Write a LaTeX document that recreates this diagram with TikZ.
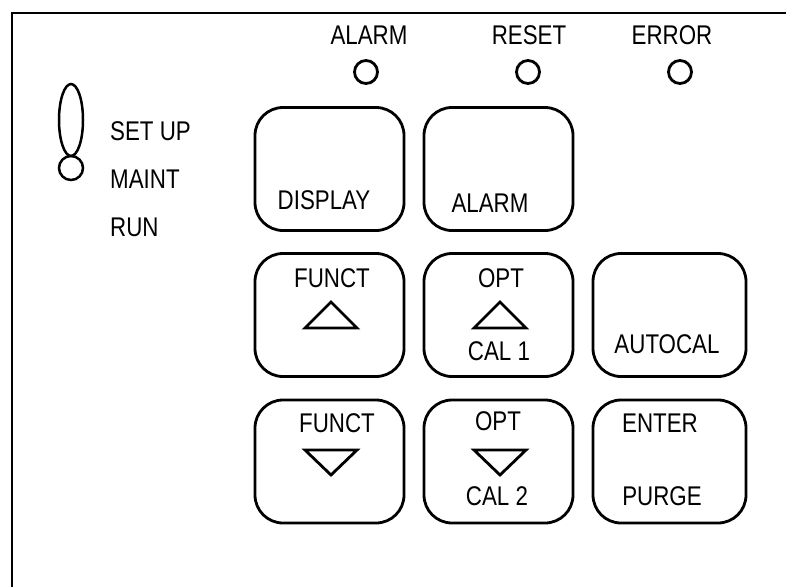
\documentclass[tikz,border=0pt]{standalone}
\usepackage{fontspec}
\setmainfont{Liberation Sans}
\usetikzlibrary{shapes.geometric}
\newcommand\keytxt[1]{\scalebox{0.95}[1.15]{#1}}
\begin{document}
\begin{tikzpicture}[x=1pt,y=-1pt,
  lbl/.style={inner sep=0pt,font=\fontsize{23.5}{27}\selectfont},
  key/.style={draw,line width=2.8pt,rounded corners=28pt,inner sep=0pt,minimum width=149pt,minimum height=123pt},
  led/.style={draw,circle,line width=2.8pt,minimum size=23pt,inner sep=0pt},
  tri/.style={line width=2.8pt,line join=miter}]
\useasboundingbox (0,0) rectangle (786,587);
% frame
\coordinate (fb) at (12,587);
\coordinate (fc) at (12,13);
\coordinate (fr) at (786,13);
\draw[line width=2.8pt] (fb) -- (fc) -- (fr);
% indicator labels and LEDs
\node[lbl] (lalarm) at (369,35) {\keytxt{ALARM}};
\node[lbl] (lreset) at (529,35) {\keytxt{RESET}};
\node[lbl] (lerror) at (672,35) {\keytxt{ERROR}};
\node[led] (ledalarm) at (366,72) {};
\node[led] (ledreset) at (528,72) {};
\node[led] (lederror) at (680,72) {};
% mode switch
\node[draw,ellipse,line width=2.5pt,minimum width=24pt,minimum height=72pt,inner sep=0pt] (sw) at (71,120) {};
\node[draw,circle,line width=2.5pt,minimum size=24pt,inner sep=0pt] (knob) at (71,168) {};
\node[lbl,anchor=west] (setup) at (110,131) {\keytxt{SET UP}};
\node[lbl,anchor=west] (maint) at (110,179) {\keytxt{MAINT}};
\node[lbl,anchor=west] (run) at (110,227) {\keytxt{RUN}};
% keys
\node[key] (kdisplay) at (329.5,169) {};
\node[key] (kalarm) at (498.5,169) {};
\node[key] (kfup) at (329.5,315) {};
\node[key] (koup) at (498.5,315) {};
\node[key,minimum width=153pt] (kauto) at (669.5,315) {};
\node[key] (kfdn) at (329.5,461.5) {};
\node[key] (kodn) at (498.5,461.5) {};
\node[key,minimum width=153pt] (kenter) at (669.5,461.5) {};
% key texts
\node[lbl] (tdisplay) at (324,200) {\keytxt{DISPLAY}};
\node[lbl] (talarm) at (490,203) {\keytxt{ALARM}};
\node[lbl] (tfup) at (332,278) {\keytxt{FUNCT}};
\node[lbl] (toup) at (501,278) {\keytxt{OPT}};
\node[lbl] (tcal1) at (499,351) {\keytxt{CAL 1}};
\node[lbl] (tauto) at (667,344) {\keytxt{AUTOCAL}};
\node[lbl] (tfdn) at (337,423) {\keytxt{FUNCT}};
\node[lbl] (todn) at (498,421) {\keytxt{OPT}};
\node[lbl] (tcal2) at (497,496) {\keytxt{CAL 2}};
\node[lbl] (tenter) at (660,423) {\keytxt{ENTER}};
\node[lbl] (tpurge) at (662,496) {\keytxt{PURGE}};
% arrows
\draw[tri] (305,328) -- (331,302) -- (357,328) -- cycle;
\draw[tri] (474,328) -- (500,302) -- (526,328) -- cycle;
\draw[tri] (305,450) -- (331,475) -- (357,450) -- cycle;
\draw[tri] (474,450) -- (500,475) -- (526,450) -- cycle;
\end{tikzpicture}
\end{document}
